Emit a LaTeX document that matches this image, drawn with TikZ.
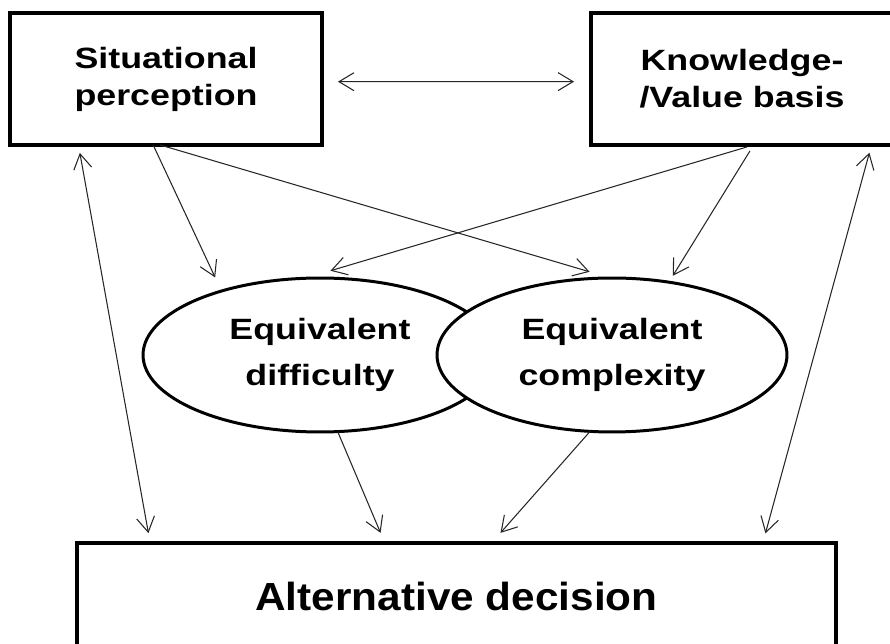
\documentclass[tikz,border=0pt]{standalone}
\usepackage{fontspec}
\usetikzlibrary{arrows.meta}
\usetikzlibrary{shapes.geometric}

\newfontfamily\labelfont{Liberation Sans}[FakeStretch=1.22]
\newfontfamily\decisionfont{Liberation Sans}[FakeStretch=1.08]

\tikzset{
  box/.style={draw, rectangle, line width=2.2pt, outer sep=0pt, align=center,
    minimum height=2.64cm, font=\labelfont\bfseries\fontsize{16.7}{21}\selectfont},
  oval/.style={draw, ellipse, line width=1.7pt, fill=white, outer sep=0pt, align=center,
    minimum height=3.08cm, font=\labelfont\bfseries\fontsize{16.7}{26}\selectfont},
  barb/.tip={Straight Barb[length=3mm, width=3.6mm]},
  link/.style={draw=black!85, line width=0.6pt, -barb},
  twoway/.style={link, barb-barb}
}

\begin{document}
\begin{tikzpicture}[x=0.02cm, y=-0.02cm]
  \useasboundingbox (0, 0) rectangle (890, 644);
  \clip (0, 0) rectangle (890, 644);

  \node [box, minimum width=6.24cm] (sp) at (166, 79) {Situational\\perception};
  \node [box, minimum width=6.04cm] (kv) at (742, 79) {Knowledge-\\/Value basis};

  % the right oval is filled, so it covers part of the left one
  \node [oval, minimum width=7.08cm] (diff) at (320, 355) {Equivalent\\difficulty};
  \node [oval, minimum width=7.0cm] (cplx) at (612, 355) {Equivalent\\complexity};

  \node [box, minimum width=15.18cm, minimum height=2.16cm,
    font=\decisionfont\bfseries\fontsize{22.3}{26}\selectfont] (dec) at (456.5, 597) {Alternative decision};

  \draw [twoway, shorten <=0.32cm, shorten >=0.34cm] (sp.-1.5) -- (kv.181.5);

  \draw [link, shorten >=0.3cm] (sp.-101) -- (diff.147);
  \draw [link, shorten >=0.44cm] (sp.-95) -- (cplx.91);
  \draw [link, shorten <=0.14cm, shorten >=0.53cm] (kv.-80) -- (diff.101);
  \draw [link, shorten <=0.14cm, shorten >=0.15cm] (kv.-80) -- (cplx.52);

  \draw [link, shorten >=0.22cm] (diff.-77) -- (dec.143);
  \draw [link, shorten >=0.27cm] (cplx.-106) -- (dec.57);

  \draw [twoway, shorten <=0.16cm, shorten >=0.2cm] (sp.-143.6) -- (dec.170);
  \draw [twoway, shorten <=0.16cm, shorten >=0.2cm] (kv.-27.5) -- (dec.10);
\end{tikzpicture}
\end{document}
